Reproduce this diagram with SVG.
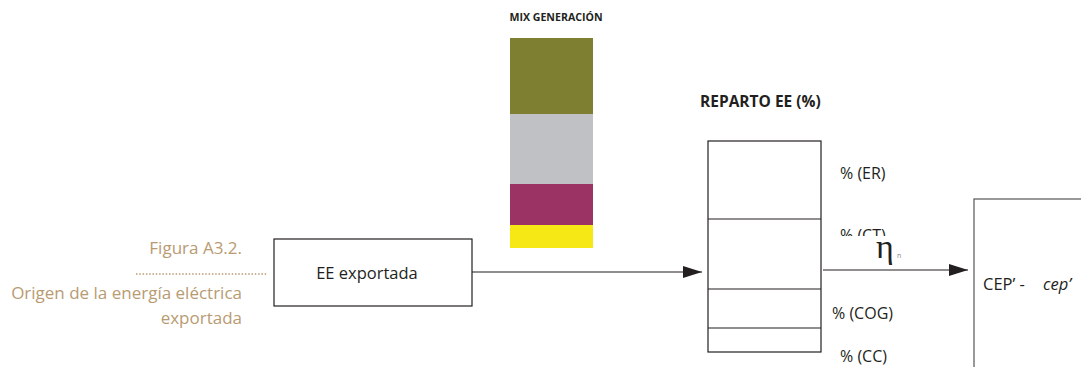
<svg xmlns="http://www.w3.org/2000/svg" width="1081" height="367" viewBox="0 0 1081 367">
<style>
.t{font-family:"Open Sans","Noto Sans","Liberation Sans",sans-serif;fill:#231f20}
.cap{font-family:"Open Sans","Noto Sans","Liberation Sans",sans-serif;fill:#b89b73;font-size:17px;text-anchor:end}
.box{fill:#fff;stroke:#231f20;stroke-width:1.2}
.ln{stroke:#231f20;stroke-width:1.2;fill:none}
</style>
<defs>
<marker id="ah" markerWidth="20" markerHeight="12" refX="19" refY="6" orient="auto" markerUnits="userSpaceOnUse">
<path d="M0,0 L19,6 L0,12 Z" fill="#231f20"/>
</marker>
<clipPath id="ctclip"><rect x="830" y="215" width="60" height="21"/></clipPath>
</defs>
<rect width="1081" height="367" fill="#fff"/>
<g id="caption">
<text class="cap" x="242" y="254">Figura A3.2.</text>
<line x1="136" y1="274" x2="268" y2="274" stroke="#b89b73" stroke-width="1.5" stroke-dasharray="1.5 1.8"/>
<text class="cap" x="242" y="299">Origen de la energía eléctrica</text>
<text class="cap" x="242" y="324">exportada</text>
</g>
<g id="ee-exportada">
<rect class="box" x="274" y="239" width="198" height="67"/>
<text class="t" x="367" y="279" font-size="16.5" text-anchor="middle">EE exportada</text>
</g>
<g id="mix-generacion">
<text class="t" x="556" y="21" font-size="10.6" font-weight="bold" text-anchor="middle">MIX GENERACIÓN</text>
<rect x="510" y="38" width="83" height="76" fill="#7f7f32"/>
<rect x="510" y="114" width="83" height="70" fill="#c0c1c4"/>
<rect x="510" y="184" width="83" height="41" fill="#9b3464"/>
<rect x="510" y="225" width="83" height="23" fill="#f5e815"/>
</g>
<g id="reparto-ee">
<text class="t" x="700" y="107" font-size="15.5" font-weight="bold">REPARTO EE (%)</text>
<rect class="box" x="708" y="141" width="113" height="211"/>
<line class="ln" x1="708" y1="219" x2="821" y2="219"/>
<line class="ln" x1="708" y1="289" x2="821" y2="289"/>
<line class="ln" x1="708" y1="328" x2="821" y2="328"/>
<text class="t" x="840" y="179" font-size="16">% (ER)</text>
<text class="t" x="840" y="241" font-size="16" clip-path="url(#ctclip)">% (CT)</text>
<text class="t" x="832" y="319" font-size="16">% (COG)</text>
<text class="t" x="840" y="362" font-size="16">% (CC)</text>
</g>
<g id="cep">
<rect x="974" y="199" width="120" height="180" fill="#fff" stroke="#555" stroke-width="1.2"/>
<text class="t" x="983" y="290" font-size="16.5">CEP’ -</text>
<text class="t" x="1043" y="290" font-size="16.5" font-style="italic">cep’</text>
</g>
<g id="connectors">
<line class="ln" x1="472" y1="272" x2="702" y2="272" marker-end="url(#ah)"/>
<line class="ln" x1="823" y1="270" x2="968" y2="270" marker-end="url(#ah)"/>
<text x="876" y="258" font-size="34" fill="#231f20" font-family="Liberation Serif,serif">η</text>
<text x="897" y="258" font-size="7" fill="#888" font-family="Open Sans,sans-serif">n</text>
</g>
</svg>
